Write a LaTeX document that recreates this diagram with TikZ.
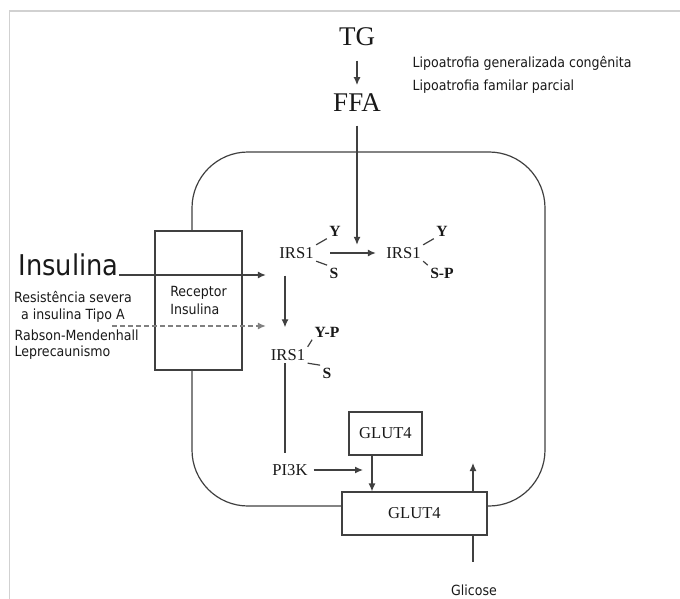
\documentclass[tikz,border=0pt]{standalone}
\usepackage{fontspec}
\setmainfont{Liberation Serif}
\newfontfamily\labelfont{DejaVu Sans Condensed}
\usetikzlibrary{arrows.meta}

\begin{document}
\begin{tikzpicture}[x=0.5pt, y=-0.5pt, line width=0.6pt, color=black!75,
  every node/.style={inner sep=1pt, text=black!90},
  big/.style={font=\fontsize{13.5}{15}\selectfont},
  bio/.style={font=\fontsize{8.3}{10}\selectfont},
  site/.style={font=\bfseries\fontsize{7.8}{9}\selectfont},
  lbl/.style={font=\labelfont\fontsize{7}{9}\selectfont},
  arr/.style={-{Latex[length=4pt,width=3.5pt]}}]
\useasboundingbox (0,0) rectangle (680,599);
\draw[black!18, line width=0.8pt] (9.5,599) -- (9.5,11) -- (680,11);

\node[big] (tg) at (357,37) {TG};
\node[big] (ffa) at (357,103) {FFA};
\node[lbl, anchor=west] (lipoa) at (410,63) {Lipoatrofia generalizada congênita};
\node[lbl, anchor=west] (lipob) at (410,87) {Lipoatrofia familar parcial};

\node[draw, lbl, align=left, minimum width=43.5pt, minimum height=69.5pt] (rec) at (198.5,300.5) {Receptor\\Insulina};
\node[font=\labelfont\fontsize{14.3}{16}\selectfont, anchor=base west, inner sep=0pt] (ins) at (18,275) {Insulina};
\node[lbl] (resa) at (73,297) {Resistência severa};
\node[lbl] (resb) at (73,316) {a insulina Tipo A};
\node[lbl, anchor=west] (rab) at (12,335) {Rabson-Mendenhall};
\node[lbl, anchor=west] (lep) at (12,353) {Leprecaunismo};

\node[bio] (irsa) at (296.5,253) {IRS1};
\node[site] (ya) at (335,231) {Y};
\node[site] (sa) at (334,273) {S};
\node[bio] (irsb) at (403.5,253) {IRS1};
\node[site] (yb) at (442,231) {Y};
\node[site] (sb) at (442,273) {S-P};
\node[bio] (irsc) at (288,355) {IRS1};
\node[site] (yc) at (327,332) {Y-P};
\node[site] (sc) at (327,373) {S};

\node[bio] (pik) at (290,470) {PI3K};
\node[draw, bio, minimum width=36.5pt, minimum height=21.5pt] (gsmall) at (385.5,433.5) {GLUT4};
\node[draw, bio, minimum width=72.5pt, minimum height=21.5pt] (gbig) at (414.5,513.5) {GLUT4};
\node[lbl] (glic) at (474,590) {Glicose};

\coordinate (cw) at (192,0);
\coordinate (stem) at ([xshift=-1.5pt]irsc.south);
\coordinate (gin) at (372,0);
\coordinate (gout) at (473,463);
\coordinate (dstart) at (112,326);

\draw[rounded corners=28pt] (rec.north -| cw) -- (192,152) -- (545,152) -- (545,506) -- (gbig.east |- 0,506);
\draw[rounded corners=28pt] (gbig.west |- 0,506) -- (192,506) -- (rec.south -| cw);

\draw[arr, shorten <=6pt, shorten >=3.2pt] (tg) -- (ffa);
\draw[arr, shorten <=5.5pt] (ffa) -- (ffa |- irsa.north);
\draw[arr, shorten >=5.5pt] (ins.base east) -- (ins.base east -| irsa.west);
\draw[arr, dashed, dash pattern=on 2.5pt off 1.5pt, black!50, shorten >=5.5pt] (dstart) -- (dstart -| irsa.west);

\draw (irsa.north east) -- (ya.south west);
\draw (irsa.south east) -- (sa.north west);
\draw (irsb.north east) -- (yb.south west);
\draw (irsb.south east) -- (sb.north west);
\draw (irsc.north east) -- (yc.south west);
\draw (irsc.south east) -- (sc.north west);

\draw[arr, shorten <=7pt, shorten >=4pt] (irsa) -- (irsb);
\draw[arr, shorten <=7.25pt, shorten >=9.75pt] ([xshift=-5.75pt]irsa.south) -- (stem |- irsc.north);
\draw[shorten >=4.25pt] (stem) -- (stem |- pik.north);
\draw[arr, shorten <=1.75pt, shorten >=4.5pt] (pik) -- (pik -| gin);
\draw[arr] (gin |- gsmall.south) -- (gin |- gbig.north);
\draw[arr] (gout |- gbig.north) -- (gout);
\draw[shorten <=10pt] (gout |- glic.north) -- (gout |- gbig.south);
\end{tikzpicture}
\end{document}
